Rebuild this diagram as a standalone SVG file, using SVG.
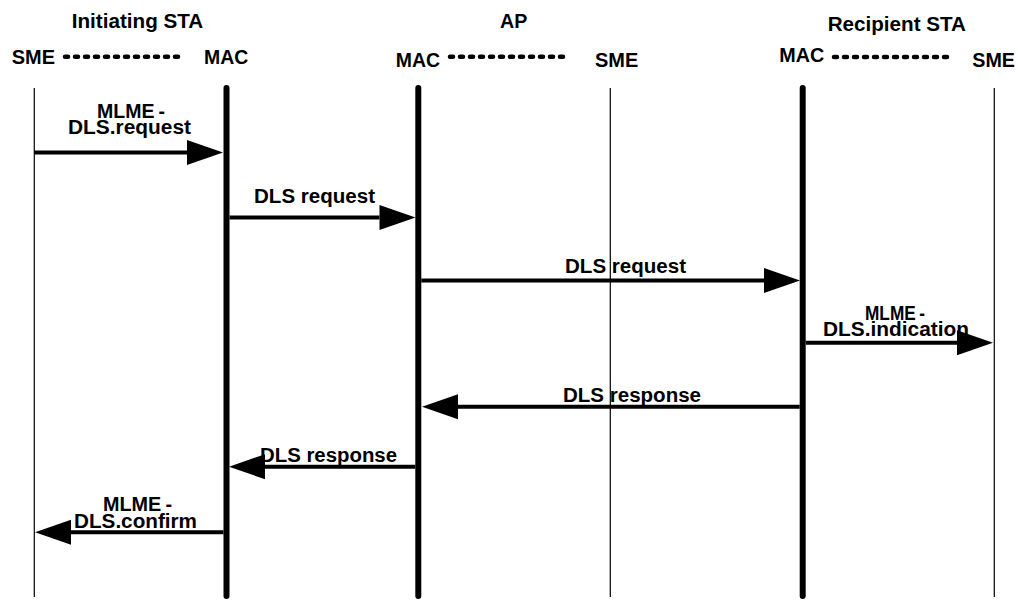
<svg xmlns="http://www.w3.org/2000/svg" width="1018" height="600" viewBox="0 0 1018 600">
<style>
text{font-family:"Liberation Sans",Arial,sans-serif;font-weight:bold;font-size:19.5px;fill:#000}
.thin{stroke:#000;stroke-width:1.2}
.thick{stroke:#000;stroke-width:6;stroke-linecap:round}
.dots{stroke:#000;stroke-width:4.5;stroke-linecap:round;stroke-dasharray:3 7}
.msg{stroke:#000;stroke-width:4;fill:none;marker-end:url(#ah)}
</style>
<defs>
<marker id="ah" markerUnits="userSpaceOnUse" markerWidth="37" markerHeight="26" refX="0" refY="12.5" orient="auto" overflow="visible">
<path d="M0,0 L36,12.5 L0,25 z" fill="#000"/>
</marker>
</defs>
<rect width="1018" height="600" fill="#fff"/>
<g id="initiating-sta">
<text x="71.7" y="28" textLength="131.6" lengthAdjust="spacingAndGlyphs">Initiating STA</text>
<g id="init-sme">
<text x="11.7" y="63.5" textLength="43.3" lengthAdjust="spacingAndGlyphs">SME</text>
<line class="thin" x1="34.3" y1="88" x2="34.3" y2="597"/>
</g>
<line class="dots" x1="65" y1="56.7" x2="185" y2="56.7"/>
<g id="init-mac">
<text x="204" y="63.5" textLength="44.3" lengthAdjust="spacingAndGlyphs">MAC</text>
<line class="thick" x1="226.5" y1="88" x2="226.5" y2="596"/>
</g>
</g>
<g id="ap">
<text x="500" y="28" textLength="27.3" lengthAdjust="spacingAndGlyphs">AP</text>
<g id="ap-mac">
<text x="395.7" y="66.7" textLength="44.3" lengthAdjust="spacingAndGlyphs">MAC</text>
<line class="thick" x1="418.3" y1="88" x2="418.3" y2="596"/>
</g>
<line class="dots" x1="450" y1="56.7" x2="570" y2="56.7"/>
<g id="ap-sme">
<text x="595" y="66.7" textLength="43.3" lengthAdjust="spacingAndGlyphs">SME</text>
<line class="thin" x1="610.3" y1="88" x2="610.3" y2="597"/>
</g>
</g>
<g id="recipient-sta">
<text x="827.7" y="30.7" textLength="138.3" lengthAdjust="spacingAndGlyphs">Recipient STA</text>
<g id="rec-mac">
<text x="779.3" y="61.7" textLength="45" lengthAdjust="spacingAndGlyphs">MAC</text>
<line class="thick" x1="802.7" y1="88" x2="802.7" y2="596"/>
</g>
<line class="dots" x1="834" y1="57" x2="954" y2="57"/>
<g id="rec-sme">
<text x="972.3" y="66.7" textLength="42.7" lengthAdjust="spacingAndGlyphs">SME</text>
<line class="thin" x1="994.3" y1="88" x2="994.3" y2="597"/>
</g>
</g>
<g id="connectors">
<line class="msg" x1="34.3" y1="152.5" x2="187" y2="152.5"/>
<line class="msg" x1="229.5" y1="217.5" x2="379.5" y2="217.5"/>
<line class="msg" x1="421.3" y1="280.5" x2="764" y2="280.5"/>
<line class="msg" x1="805.7" y1="342.7" x2="957" y2="342.7"/>
<line class="msg" x1="799.7" y1="406.7" x2="458" y2="406.7"/>
<line class="msg" x1="415.3" y1="466.7" x2="265" y2="466.7"/>
<line class="msg" x1="223.5" y1="532.3" x2="71" y2="532.3"/>
</g>
<g id="labels">
<text x="97" y="118" textLength="68" lengthAdjust="spacingAndGlyphs">MLME<tspan dx="4">-</tspan></text>
<text x="68" y="134" textLength="123" lengthAdjust="spacingAndGlyphs">DLS.request</text>
<text x="254" y="203.3" textLength="121" lengthAdjust="spacingAndGlyphs">DLS request</text>
<text x="565" y="273" textLength="121" lengthAdjust="spacingAndGlyphs">DLS request</text>
<text x="865" y="319.5" textLength="60" lengthAdjust="spacingAndGlyphs">MLME<tspan dx="4">-</tspan></text>
<text x="823" y="336" textLength="146" lengthAdjust="spacingAndGlyphs">DLS.indication</text>
<text x="563" y="401.7" textLength="138" lengthAdjust="spacingAndGlyphs">DLS response</text>
<text x="260" y="461.7" textLength="137" lengthAdjust="spacingAndGlyphs">DLS response</text>
<text x="103" y="510.7" textLength="69" lengthAdjust="spacingAndGlyphs">MLME<tspan dx="4">-</tspan></text>
<text x="74" y="527.7" textLength="123" lengthAdjust="spacingAndGlyphs">DLS.confirm</text>
</g>
</svg>
